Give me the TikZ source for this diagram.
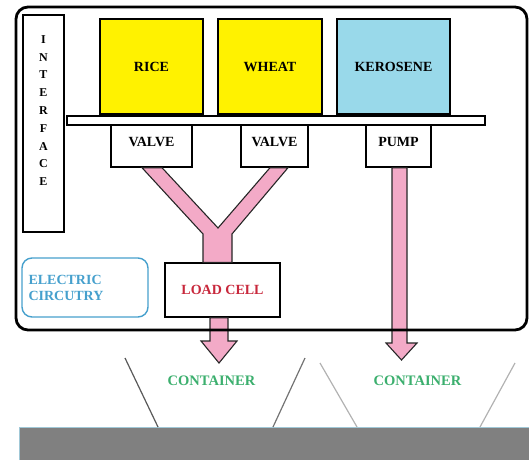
\documentclass[tikz,border=0pt]{standalone}
\usepackage{fontspec}
\setmainfont{Liberation Serif}
\usepackage{tikz}
\usetikzlibrary{calc}
\definecolor{tankyellow}{RGB}{255,242,0}
\definecolor{tankblue}{RGB}{153,217,234}
\definecolor{pipepink}{RGB}{243,170,199}
\definecolor{circblue}{RGB}{70,160,205}
\definecolor{cellred}{RGB}{200,40,60}
\definecolor{boxgreen}{RGB}{60,175,110}
\definecolor{groundgray}{RGB}{128,128,128}
\definecolor{groundedge}{RGB}{160,200,215}

\begin{document}
\begin{tikzpicture}[
        x=1pt, y=-1pt,
        every node/.style={font=\fontsize{14}{16}\selectfont\bfseries},
        tank/.style={rectangle,draw,line width=2.4pt,inner sep=0pt},
        valvebox/.style={rectangle,draw,line width=1.4pt,inner sep=0pt,minimum width=#1,minimum height=42pt,text height=21pt,text depth=21pt},
        shelfbar/.style={rectangle,draw,line width=1.4pt,inner sep=0pt,minimum width=418pt,minimum height=9pt},
        pipe/.style={fill=pipepink,draw=black!85,line width=1.1pt,line join=miter},
        holder/.style={line width=1.2pt},
        label/.style={text=boxgreen,font=\fontsize{14.5}{16}\selectfont\bfseries}
      ]
        \useasboundingbox (0,0) rectangle (529,460);
        % tanks on the shelf
        \node[tank,fill=tankyellow,minimum width=103pt,minimum height=95pt] (rice)     at (151.5,66.5) {RICE};
        \node[tank,fill=tankyellow,minimum width=104pt,minimum height=95pt] (wheat)    at (270,66.5)   {WHEAT};
        \node[tank,fill=tankblue,minimum width=113pt,minimum height=95pt]   (kerosene) at (393.5,66.5) {KEROSENE};
        \node[shelfbar] (shelf) at (276,120.5) {};
        \node[valvebox=81pt] (valveL) at (151.5,146) {VALVE};
        \node[valvebox=67pt] (valveR) at (274.5,146) {VALVE};
        \node[valvebox=65pt] (pump)   at (398.5,146) {PUMP};
        \node[rectangle,draw,line width=1.4pt,minimum width=115pt,minimum height=54pt] (cell) at (222.5,290) {\textcolor{cellred}{LOAD CELL}};
        \node[rectangle,draw=circblue,line width=1.4pt,rounded corners=10pt,minimum width=126pt,minimum height=59pt,
              align=left,text=circblue,text width=113pt,inner xsep=6.5pt] (circuit) at (85,287.5) {ELECTRIC\\CIRCUTRY};
        \node[rectangle,draw,line width=1.4pt,minimum width=41pt,minimum height=217pt] (iface) at (43.5,123.5) {};
        \node[align=center,font=\fontsize{12}{17.8}\selectfont\bfseries] (ifacetxt) at (43.5,110.5)
          {I\\N\\T\\E\\R\\F\\A\\C\\E};
        % pipes
        \draw[pipe] (valveL.south -| 142,0) -- (valveL.south -| 162,0) -- (218,228)
          -- (valveR.south -| 270,0) -- (valveR.south -| 288,0) -- (232,234)
          -- (cell.north -| 232,0) -- (cell.north -| 203,0) -- (203,234) -- cycle;
        \draw[pipe] (cell.south -| 210,0) -- (cell.south -| 228,0) -- (228,341) -- (237,341)
          -- (219,363) -- (201,341) -- (210,341) -- cycle;
        \draw[pipe] (pump.south -| 392,0) -- (pump.south -| 407,0) -- (407,343) -- (417,343)
          -- (401.5,360) -- (386,343) -- (392,343) -- cycle;
        % machine frame
        \draw[line width=2.8pt,rounded corners=12pt] (16,7) rectangle (527,330);
        % containers and ground
        \fill[groundgray] (19,427) rectangle (529,460);
        \draw[groundedge,line width=1pt] (19,460) -- (19,427) -- (529,427);
        \draw[holder,black!65] (125,358) -- (158,427);
        \draw[holder,black!55] (305,358) -- (273,427);
        \draw[holder,black!30] (320,363) -- (357,427);
        \draw[holder,black!30] (515,363) -- (480,427);
        \node[label] (contL) at (211.5,381) {CONTAINER};
        \node[label] (contR) at (417.5,381) {CONTAINER};
      \end{tikzpicture}
\end{document}
